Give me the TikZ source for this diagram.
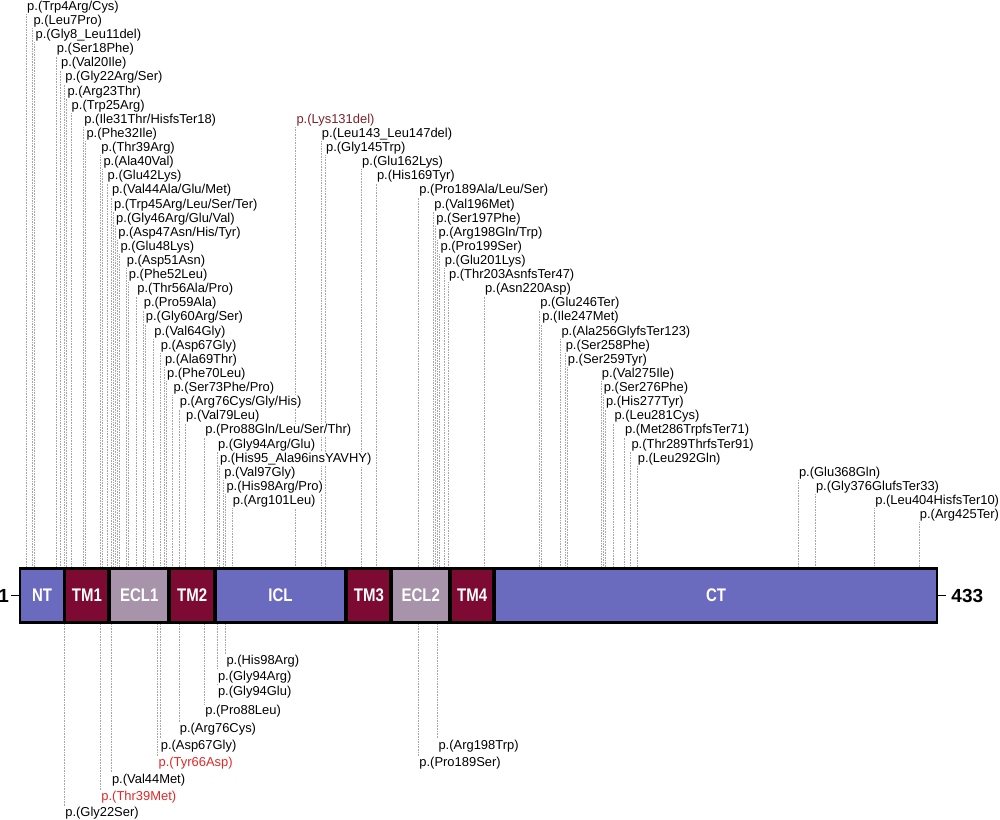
\documentclass[tikz,border=0pt]{standalone}
\usepackage{graphicx}
\usepackage{fontspec}
\setmainfont{Liberation Sans}
\usetikzlibrary{positioning,backgrounds}
\definecolor{domcyto}{RGB}{106,106,190}
\definecolor{domtm}{RGB}{125,10,50}
\definecolor{domecl}{RGB}{168,148,170}
\definecolor{mutdel}{RGB}{125,35,45}
\definecolor{mutred}{RGB}{225,40,40}
% narrow bold text for the domain names
\newcommand{\domname}[1]{\scalebox{0.82}[1]{#1}}

\begin{document}
\begin{tikzpicture}[%
    x=0.025cm, y=-0.025cm,      % one unit is one pixel of the figure, y runs down
    node distance=2.5mm
    ]
% -------------------------------------------------
% Styles for the protein bar and the variant labels
\tikzset{
  seg/.style={inner sep=0pt, minimum height=1.275cm, text=white,
    font={\fontsize{13}{14}\selectfont\bfseries}},
  cyto/.style={seg, fill=domcyto},
  tm/.style={seg, fill=domtm},
  ecl/.style={seg, fill=domecl},
  endlab/.style={inner sep=0pt, font={\fontsize{13.5}{15}\selectfont\bfseries}},
  mut/.style={anchor=west, fill=white, inner xsep=0.4pt, inner ysep=0.6pt,
    font={\fontsize{9.2}{10}\selectfont}},
  % dotted grey connector from a label to the bar
  tick/.style={draw=gray!70, line width=0.55pt, dash pattern=on 0.7pt off 0.45pt}
}
\useasboundingbox (0,0) rectangle (1000,820);

% -------------------------------------------------
% The bar: black frame, then the domains on it
\node [fill=black, inner sep=0pt, minimum width=22.96cm, minimum height=1.425cm]
  (bar) at (478.75,595.5) {};
\node [cyto, minimum width=1.03cm]   (nt)   at (42.1,595.5)  {\domname{NT}};
\node [tm,   minimum width=1.02cm]   (tm1)  at (86.9,595.5)  {\domname{TM1}};
\node [ecl,  minimum width=1.4cm]    (ecl1) at (139.3,595.5) {\domname{ECL1}};
\node [tm,   minimum width=1.03cm]   (tm2)  at (192.1,595.5) {\domname{TM2}};
\node [cyto, minimum width=3.175cm]  (icl)  at (280.5,595.5) {\domname{ICL}};
\node [tm,   minimum width=1.02cm]   (tm3)  at (368.9,595.5) {\domname{TM3}};
\node [ecl,  minimum width=1.3625cm] (ecl2) at (420.75,595.5) {\domname{ECL2}};
\node [tm,   minimum width=1.0075cm] (tm4)  at (472.15,595.5) {\domname{TM4}};
\node [cyto, minimum width=10.975cm] (ct)   at (716,595.5)   {\domname{CT}};

% residue numbers at both ends
\node [endlab, left=of bar]        (n1)   {1};
\node [endlab, right=3.2mm of bar] (n433) {433};
\draw [line width=0.9pt, shorten <=0.5mm] (n1) -- (bar);
\draw [line width=0.9pt, shorten >=1.2mm] (bar) -- (n433);

% -------------------------------------------------
% Variants above the bar, first column
\node [mut] (up4)   at (26.4,7.0)    {p.(Trp4Arg/Cys)};
\node [mut] (up7)   at (32.7,21.1)   {p.(Leu7Pro)};
\node [mut] (up8)   at (34.8,35.2)   {p.(Gly8\_Leu11del)};
\node [mut] (up18)  at (56.1,49.4)   {p.(Ser18Phe)};
\node [mut] (up20)  at (60.3,63.5)   {p.(Val20Ile)};
\node [mut] (up22)  at (64.5,77.6)   {p.(Gly22Arg/Ser)};
\node [mut] (up23)  at (66.7,91.7)   {p.(Arg23Thr)};
\node [mut] (up25)  at (70.9,105.8)  {p.(Trp25Arg)};
\node [mut] (up31)  at (83.6,119.9)  {p.(Ile31Thr/HisfsTer18)};
\node [mut] (up32)  at (85.7,134.1)  {p.(Phe32Ile)};
\node [mut] (up39)  at (100.6,148.2) {p.(Thr39Arg)};
\node [mut] (up40)  at (102.7,162.3) {p.(Ala40Val)};
\node [mut] (up42)  at (106.9,176.4) {p.(Glu42Lys)};
\node [mut] (up44)  at (111.2,190.6) {p.(Val44Ala/Glu/Met)};
\node [mut] (up45)  at (113.3,204.7) {p.(Trp45Arg/Leu/Ser/Ter)};
\node [mut] (up46)  at (115.4,218.8) {p.(Gly46Arg/Glu/Val)};
\node [mut] (up47)  at (117.5,232.9) {p.(Asp47Asn/His/Tyr)};
\node [mut] (up48)  at (119.7,247.0) {p.(Glu48Lys)};
\node [mut] (up51)  at (126.0,261.2) {p.(Asp51Asn)};
\node [mut] (up52)  at (128.1,275.3) {p.(Phe52Leu)};
\node [mut] (up56)  at (136.6,289.4) {p.(Thr56Ala/Pro)};
\node [mut] (up59)  at (143.0,303.5) {p.(Pro59Ala)};
\node [mut] (up60)  at (145.1,317.6) {p.(Gly60Arg/Ser)};
\node [mut] (up64)  at (153.6,331.8) {p.(Val64Gly)};
\node [mut] (up67)  at (160.0,345.9) {p.(Asp67Gly)};
\node [mut] (up69)  at (164.2,360.0) {p.(Ala69Thr)};
\node [mut] (up70)  at (166.3,374.1) {p.(Phe70Leu)};
\node [mut] (up73)  at (172.7,388.2) {p.(Ser73Phe/Pro)};
\node [mut] (up76)  at (179.0,402.4) {p.(Arg76Cys/Gly/His)};
\node [mut] (up79)  at (185.4,416.5) {p.(Val79Leu)};
\node [mut] (up88)  at (204.5,430.6) {p.(Pro88Gln/Leu/Ser/Thr)};
\node [mut] (up94)  at (217.2,444.7) {p.(Gly94Arg/Glu)};
\node [mut] (up95)  at (219.3,458.8) {p.(His95\_Ala96insYAVHY)};
\node [mut] (up97)  at (223.6,473.0) {p.(Val97Gly)};
\node [mut] (up98)  at (225.7,487.1) {p.(His98Arg/Pro)};
\node [mut] (up101) at (232.0,501.2) {p.(Arg101Leu)};

% Variants above the bar, second column
\node [mut, text=mutdel] (up131) at (295.7,120.0) {p.(Lys131del)};
\node [mut] (up143) at (321.1,134.1) {p.(Leu143\_Leu147del)};
\node [mut] (up145) at (325.3,148.2) {p.(Gly145Trp)};
\node [mut] (up162) at (361.4,162.3) {p.(Glu162Lys)};
\node [mut] (up169) at (376.2,176.4) {p.(His169Tyr)};
\node [mut] (up189) at (418.6,190.6) {p.(Pro189Ala/Leu/Ser)};
\node [mut] (up196) at (433.5,204.7) {p.(Val196Met)};
\node [mut] (up197) at (435.6,218.8) {p.(Ser197Phe)};
\node [mut] (up198) at (437.7,232.9) {p.(Arg198Gln/Trp)};
\node [mut] (up199) at (439.8,247.0) {p.(Pro199Ser)};
\node [mut] (up201) at (444.1,261.2) {p.(Glu201Lys)};
\node [mut] (up203) at (448.3,275.3) {p.(Thr203AsnfsTer47)};
\node [mut] (up220) at (484.4,289.4) {p.(Asn220Asp)};
\node [mut] (up246) at (539.5,303.5) {p.(Glu246Ter)};
\node [mut] (up247) at (541.6,317.6) {p.(Ile247Met)};
\node [mut] (up256) at (560.7,331.8) {p.(Ala256GlyfsTer123)};
\node [mut] (up258) at (564.9,345.9) {p.(Ser258Phe)};
\node [mut] (up259) at (567.1,360.0) {p.(Ser259Tyr)};
\node [mut] (up275) at (601.0,374.1) {p.(Val275Ile)};
\node [mut] (up276) at (603.1,388.2) {p.(Ser276Phe)};
\node [mut] (up277) at (605.2,402.4) {p.(His277Tyr)};
\node [mut] (up281) at (613.7,416.5) {p.(Leu281Cys)};
\node [mut] (up286) at (624.3,430.6) {p.(Met286TrpfsTer71)};
\node [mut] (up289) at (630.7,444.7) {p.(Thr289ThrfsTer91)};
\node [mut] (up292) at (637.0,458.8) {p.(Leu292Gln)};
\node [mut] (up368) at (798.2,473.0) {p.(Glu368Gln)};
\node [mut] (up376) at (815.2,487.1) {p.(Gly376GlufsTer33)};
\node [mut] (up404) at (874.5,501.2) {p.(Leu404HisfsTer10)};
\node [mut] (up425) at (919.1,515.3) {p.(Arg425Ter)};

% -------------------------------------------------
% Variants below the bar
\node [mut] (dn98)  at (225.7,661) {p.(His98Arg)};
\node [mut] (dn94r) at (217.2,677) {p.(Gly94Arg)};
\node [mut] (dn94e) at (217.2,692) {p.(Gly94Glu)};
\node [mut] (dn88)  at (204.5,711) {p.(Pro88Leu)};
\node [mut] (dn76)  at (179.0,729) {p.(Arg76Cys)};
\node [mut] (dn67)  at (160.0,746) {p.(Asp67Gly)};
\node [mut, text=mutred] (dn66) at (157.8,763) {p.(Tyr66Asp)};
\node [mut] (dn44)  at (111.2,780) {p.(Val44Met)};
\node [mut, text=mutred] (dn39) at (100.6,797) {p.(Thr39Met)};
\node [mut] (dn22)  at (64.5,813)  {p.(Gly22Ser)};
\node [mut] (dn198) at (437.7,746) {p.(Arg198Trp)};
\node [mut] (dn189) at (418.6,763) {p.(Pro189Ser)};

% -------------------------------------------------
% Connectors go behind the labels, so a label hides the lines it crosses
\begin{pgfonlayer}{background}
\foreach \m in {4,7,8,18,20,22,23,25,31,32,39,40,42,44,45,46,47,48,51,52,
    56,59,60,64,67,69,70,73,76,79,88,94,95,97,98,101,131,143,145,162,169,
    189,196,197,198,199,201,203,220,246,247,256,258,259,275,276,277,281,
    286,289,292,368,376,404,425}
  \draw [tick] (up\m.south west) -- (up\m.south west |- bar.north);
\foreach \m in {98,94r,94e,88,76,67,66,44,39,22,198,189}
  \draw [tick] (dn\m.north west |- bar.south) -- (dn\m.north west);
\end{pgfonlayer}
\end{tikzpicture}
\end{document}
